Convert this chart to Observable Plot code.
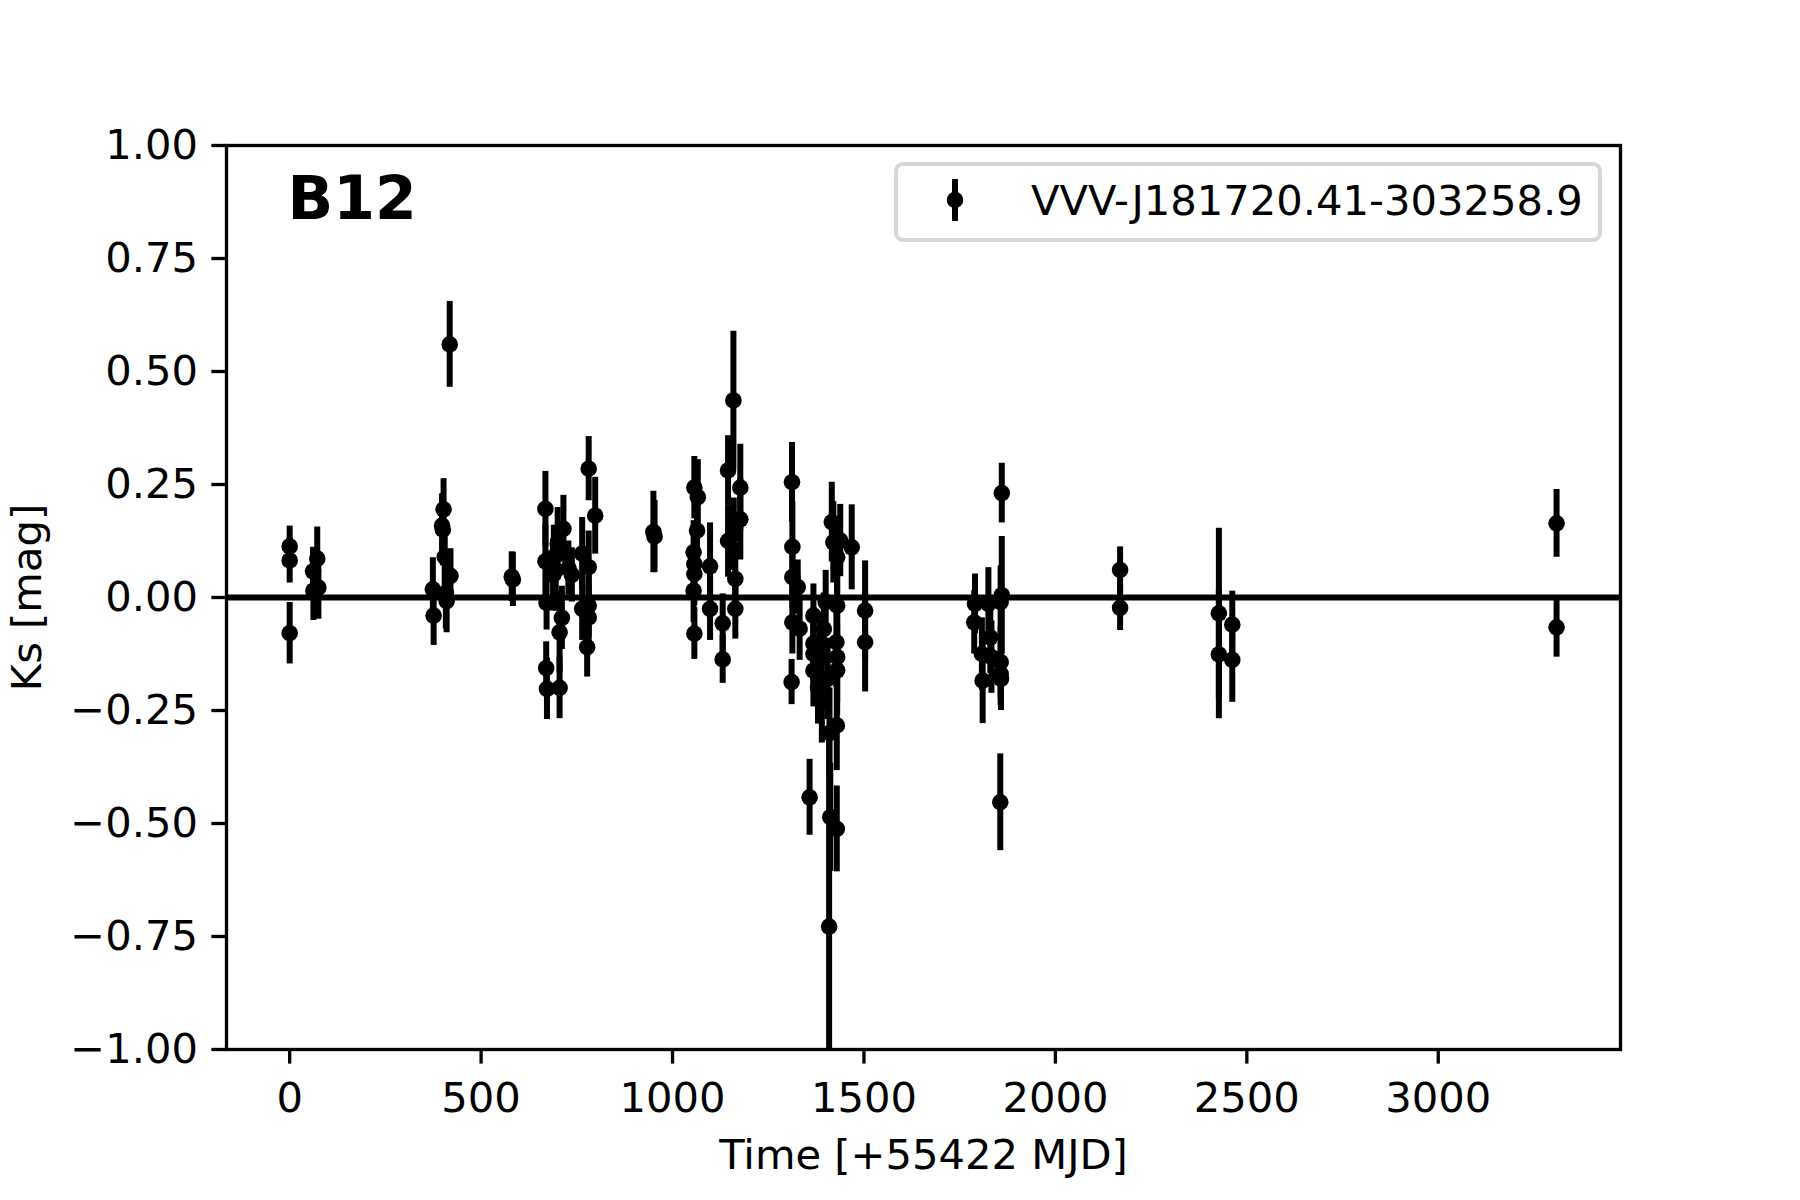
<!DOCTYPE html>
<html>
<head>
<meta charset="utf-8">
<script src="https://cdn.jsdelivr.net/npm/d3@7"></script>
<script src="https://cdn.jsdelivr.net/npm/@observablehq/plot@0.6"></script>
<style>
  body { margin: 0; background: #fff; }
  #wrap { position: relative; width: 1800px; height: 1200px; background: #fff; }
  #legend {
    position: absolute; left: 894px; top: 162px; width: 708px; height: 80px;
    box-sizing: border-box; border: 4px solid #d6d6d6; border-radius: 9px;
    background: rgba(255,255,255,0.8);
    font-family: "DejaVu Sans", sans-serif; font-size: 41.67px; color: #000;
  }
  #legend svg { position: absolute; left: 45px; top: 10px; }
  #legend span { position: absolute; left: 133px; top: 14px; line-height: 1; white-space: nowrap; }
</style>
</head>
<body>
<div id="wrap"></div>
<script>
// Observation time (days, +55422 MJD)
const time = [
  0, 0, 0, 61, 72, 62, 75,
  374, 376, 398, 402, 400, 405, 408, 410, 420, 418,
  580, 583,
  668, 668, 671, 670, 672, 705, 705, 711, 715, 700, 690, 688, 695, 737, 728, 781, 798, 781, 764, 764, 781, 781, 777,
  950, 953,
  1057, 1066, 1064, 1055, 1057, 1057, 1055, 1057, 1098, 1098, 1131, 1131, 1159, 1145, 1177, 1177, 1145, 1160, 1164, 1164,
  1312, 1313, 1313, 1313, 1332, 1311, 1327, 1358, 1368, 1368, 1368, 1368, 1390, 1380, 1385, 1395, 1400, 1416, 1420, 1438,
  1430, 1468, 1430, 1428, 1430, 1430, 1429, 1412, 1429, 1409, 1503, 1503, 1410, 1405,
  1790, 1788, 1825, 1857, 1860, 1808, 1810, 1830, 1833, 1857, 1857, 1858, 1860, 1856,
  2169, 2169,
  2427, 2427, 2462, 2462,
  3309, 3309
];
// Ks magnitude deviation (mag)
const ks = [
  0.113, 0.082, -0.079, 0.058, 0.086, 0.015, 0.022,
  0.018, -0.040, 0.159, 0.195, 0.150, 0.090, 0.010, -0.008, 0.048, 0.560,
  0.046, 0.040,
  0.196, 0.080, -0.012, -0.156, -0.202, -0.200, -0.077, -0.045, 0.152, 0.119, 0.090, 0.050, 0.060, 0.050, 0.065, 0.285, 0.181, 0.067, 0.097, -0.025, -0.018, -0.044, -0.110,
  0.145, 0.135,
  0.243, 0.222, 0.148, 0.100, 0.074, 0.052, 0.015, -0.080, 0.069, -0.025, -0.057, -0.137, 0.436, 0.281, 0.243, 0.173, 0.125, 0.140, 0.041, -0.025,
  0.255, 0.112, 0.045, -0.055, -0.069, -0.187, 0.023, -0.442, -0.040, -0.102, -0.125, -0.162, -0.232, -0.200, -0.130, -0.070, -0.010, 0.167, 0.122, 0.126,
  0.089, 0.111, -0.018, -0.099, -0.132, -0.161, -0.283, -0.486, -0.512, -0.728, -0.029, -0.099, -0.300, -0.180,
  -0.014, -0.055, -0.014, -0.010, 0.005, -0.125, -0.184, -0.088, -0.132, -0.143, -0.169, -0.180, 0.231, -0.453,
  0.061, -0.023,
  -0.035, -0.126, -0.060, -0.138,
  0.164, -0.066
];
// 1-sigma errors (mag)
const err = [
  0.045, 0.050, 0.068, 0.053, 0.070, 0.066, 0.070,
  0.070, 0.066, 0.070, 0.068, 0.080, 0.070, 0.080, 0.070, 0.060, 0.095,
  0.055, 0.060,
  0.083, 0.080, 0.060, 0.058, 0.068, 0.068, 0.090, 0.070, 0.074, 0.080, 0.070, 0.080, 0.090, 0.060, 0.060, 0.071, 0.085, 0.080, 0.080, 0.070, 0.070, 0.070, 0.066,
  0.090, 0.080,
  0.069, 0.083, 0.080, 0.070, 0.070, 0.070, 0.070, 0.057, 0.096, 0.070, 0.065, 0.053, 0.153, 0.077, 0.096, 0.090, 0.080, 0.080, 0.080, 0.067,
  0.088, 0.100, 0.070, 0.070, 0.070, 0.050, 0.060, 0.084, 0.070, 0.080, 0.080, 0.080, 0.090, 0.080, 0.080, 0.080, 0.070, 0.088, 0.090, 0.080,
  0.080, 0.094, 0.080, 0.100, 0.100, 0.100, 0.100, 0.120, 0.095, 0.420, 0.110, 0.110, 0.100, 0.090,
  0.066, 0.070, 0.080, 0.080, 0.130, 0.080, 0.095, 0.080, 0.080, 0.080, 0.070, 0.070, 0.066, 0.107,
  0.051, 0.050,
  0.188, 0.142, 0.074, 0.094,
  0.075, 0.066
];
const xTicks = [0, 500, 1000, 1500, 2000, 2500, 3000];
const yTicks = [-1, -0.75, -0.5, -0.25, 0, 0.25, 0.5, 0.75, 1];
const starName = "VVV-J181720.41-303258.9";
const panelTitle = "B12";
const xLabel = "Time [+55422 MJD]";
const yLabel = "Ks [mag]";

const data = time.map((t, i) => ({t, v: ks[i], e: err[i]}));
const font = 41.67;

const chart = Plot.plot({
  width: 1800,
  height: 1200,
  marginLeft: 226,
  marginRight: 180,
  marginTop: 145,
  marginBottom: 151,
  style: {fontFamily: "'DejaVu Sans', sans-serif", fontSize: font + "px", background: "white", color: "black"},
  x: {domain: [-165, 3476], ticks: xTicks},
  y: {domain: [-1, 1], ticks: yTicks},
  marks: [
    Plot.ruleY([0], {stroke: "black", strokeWidth: 6}),
    Plot.ruleX(data, {x: "t", y1: d => d.v - d.e, y2: d => d.v + d.e, stroke: "black", strokeWidth: 6, clip: true}),
    Plot.dot(data, {x: "t", y: "v", r: 8.3, fill: "black", stroke: null, clip: true}),
    Plot.frame({stroke: "black", strokeWidth: 3.33}),
    Plot.axisX({ticks: xTicks, tickSize: 14.6, tickPadding: 18.5, strokeWidth: 3.33, fontSize: font, label: null, tickFormat: d => String(d)}),
    Plot.axisY({ticks: yTicks, tickSize: 14.6, tickPadding: 14, strokeWidth: 3.33, fontSize: font, label: null, tickFormat: d => d3.format(".2f")(d)}),
    Plot.text([xLabel], {text: d => d, frameAnchor: "bottom", dy: 119.5, lineAnchor: "bottom", textAnchor: "middle", fontSize: font}),
    Plot.text([yLabel], {text: d => d, frameAnchor: "left", dx: -186, rotate: -90, lineAnchor: "bottom", textAnchor: "middle", fontSize: font}),
    Plot.text([panelTitle], {text: d => d, frameAnchor: "top-left", dx: 61, dy: 73, lineAnchor: "bottom", textAnchor: "start", fontSize: 60, fontWeight: "bold"})
  ]
});

const wrap = document.getElementById("wrap");
wrap.appendChild(chart);

const legend = document.createElement("div");
legend.id = "legend";
legend.innerHTML = `<svg width="24" height="48" viewBox="0 0 24 48"><line x1="12" y1="3" x2="12" y2="45" stroke="black" stroke-width="6"/><circle cx="12" cy="24" r="8.3" fill="black"/></svg><span>${starName}</span>`;
wrap.appendChild(legend);
</script>
</body>
</html>
